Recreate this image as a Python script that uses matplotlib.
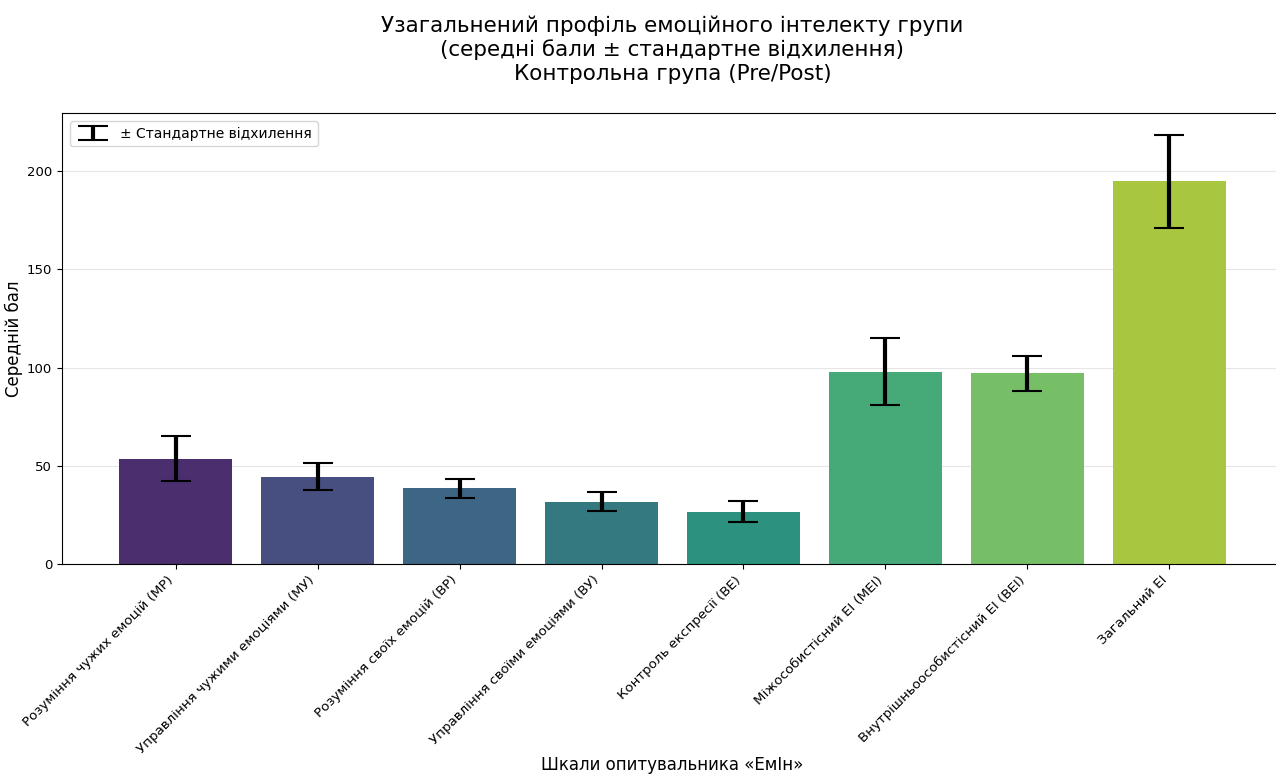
import numpy as np
import matplotlib.pyplot as plt

scales = [
    "Розуміння чужих емоцій (МР)",
    "Управління чужими емоціями (МУ)",
    "Розуміння своїх емоцій (ВР)",
    "Управління своїми емоціями (ВУ)",
    "Контроль експресії (ВЕ)",
    "Міжособистісний ЕІ (МЕІ)",
    "Внутрішньоособистісний ЕІ (ВЕІ)",
    "Загальний ЕІ",
]
means = [53.6, 44.4, 38.5, 31.8, 26.6, 98.0, 97.0, 194.8]
sds = [11.4, 6.9, 4.9, 5.0, 5.3, 17.0, 9.0, 23.6]

# viridis-like shades, one per scale
colors = ["#4b2e6e", "#474f80", "#3d6684", "#347880",
          "#2c917e", "#45a978", "#77bf67", "#a8c63f"]

fig = plt.figure(figsize=(12.76, 7.74), dpi=100)
ax = fig.add_axes([62 / 1276, 210 / 774, 1221 / 1276, 451 / 774])

x = np.arange(len(scales))
ax.bar(x, means, width=0.8, color=colors, zorder=2)
ax.errorbar(x, means, yerr=sds, fmt="none", ecolor="black",
            elinewidth=3, capsize=11, capthick=1.5, zorder=3,
            label="± Стандартне відхилення")

ax.set_xlim(-0.8, 7.8)
ax.set_ylim(0, 229.6)
ax.set_yticks([0, 50, 100, 150, 200])
ax.yaxis.grid(True, color="#e6e6e6", linewidth=0.8, zorder=0)
ax.set_axisbelow(True)

ax.set_xticks(x)
ax.set_xticklabels(scales, rotation=45, ha="right", fontsize=9.6)
ax.tick_params(axis="y", labelsize=9.5)
ax.set_ylabel("Середній бал", fontsize=12, labelpad=3)
ax.set_xlabel("Шкали опитувальника «ЕмІн»", fontsize=12)
ax.xaxis.set_label_coords(0.5, -0.425)
ax.set_title("Узагальнений профіль емоційного інтелекту групи\n"
             "(середні бали ± стандартне відхилення)\n"
             "Контрольна група (Pre/Post)", fontsize=15.5, pad=24)

ax.legend(loc="upper left", fontsize=10, handlelength=2.4,
          borderaxespad=0.6)

fig.savefig("out.png", dpi=100)
